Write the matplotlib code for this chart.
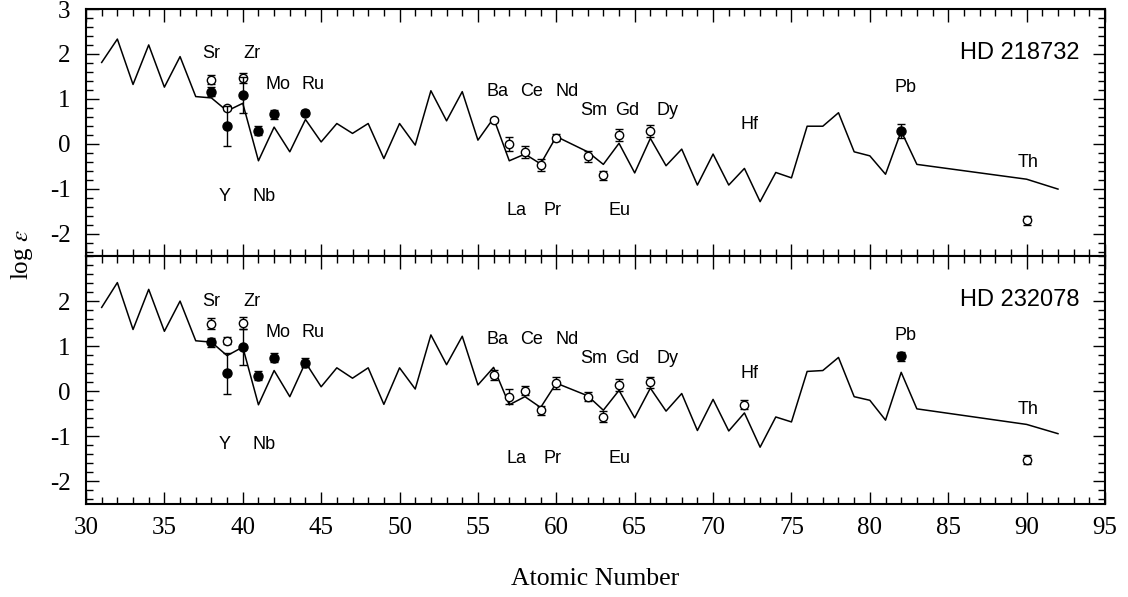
import numpy as np
import matplotlib
matplotlib.use("Agg")
import matplotlib.pyplot as plt
from matplotlib.ticker import MultipleLocator

plt.rcParams['axes.unicode_minus'] = False
plt.rcParams['mathtext.fontset'] = 'stix'

# scaled solar r-process pattern (line), one list per star
z_line = [31, 32, 33, 34, 35, 36, 37, 38, 39, 40, 41, 42, 43, 44, 45, 46, 47, 48,
          49, 50, 51, 52, 53, 54, 55, 56, 57, 58, 59, 60, 62, 63, 64, 65, 66, 67,
          68, 69, 70, 71, 72, 73, 74, 75, 76, 77, 78, 79, 80, 81, 82, 83, 90, 92]
line_218732 = [1.81, 2.33, 1.32, 2.20, 1.26, 1.94, 1.05, 1.02, 0.73, 0.90, -0.38, 0.37,
               -0.18, 0.54, 0.04, 0.45, 0.23, 0.45, -0.33, 0.45, -0.03, 1.18, 0.51, 1.16,
               0.08, 0.57, -0.38, -0.23, -0.45, 0.16, -0.18, -0.46, 0.01, -0.65, 0.12,
               -0.49, -0.12, -0.92, -0.23, -0.92, -0.55, -1.29, -0.64, -0.76, 0.39, 0.39,
               0.69, -0.18, -0.27, -0.68, 0.28, -0.46, -0.79, -1.01]
line_232078 = [1.86, 2.41, 1.37, 2.26, 1.33, 2.00, 1.12, 1.09, 0.79, 0.98, -0.30, 0.46,
               -0.12, 0.64, 0.10, 0.52, 0.29, 0.52, -0.29, 0.52, 0.05, 1.25, 0.59, 1.22,
               0.14, 0.53, -0.30, -0.12, -0.36, 0.18, -0.10, -0.42, 0.02, -0.59, 0.07,
               -0.44, -0.05, -0.87, -0.18, -0.88, -0.48, -1.24, -0.57, -0.68, 0.44, 0.46,
               0.75, -0.12, -0.20, -0.64, 0.42, -0.39, -0.735, -0.94]

# HD 218732 abundances
z_fill_1 = [38, 39, 40, 41, 42, 44, 82]
v_fill_1 = [1.16, 0.40, 1.09, 0.29, 0.66, 0.69, 0.28]
e_fill_1 = [0.10, 0.45, 0.40, 0.10, 0.10, 0.05, 0.15]
z_open_1 = [38, 39, 40, 56, 57, 58, 59, 60, 62, 63, 64, 66, 90]
v_open_1 = [1.43, 0.79, 1.46, 0.53, -0.01, -0.19, -0.47, 0.13, -0.28, -0.70, 0.20, 0.28, -1.70]
e_open_1 = [0.10, 0.05, 0.11, 0.05, 0.16, 0.13, 0.13, 0.08, 0.12, 0.10, 0.13, 0.13, 0.10]

# HD 232078 abundances
z_fill_2 = [38, 39, 40, 41, 42, 44, 82]
v_fill_2 = [1.09, 0.40, 0.98, 0.34, 0.74, 0.63, 0.78]
e_fill_2 = [0.10, 0.45, 0.40, 0.10, 0.10, 0.10, 0.10]
z_open_2 = [38, 39, 40, 56, 57, 58, 59, 60, 62, 63, 64, 66, 72, 90]
v_open_2 = [1.50, 1.12, 1.51, 0.36, -0.12, 0.01, -0.42, 0.18, -0.12, -0.56, 0.14, 0.20, -0.30, -1.52]
e_open_2 = [0.12, 0.08, 0.13, 0.12, 0.17, 0.10, 0.10, 0.13, 0.10, 0.12, 0.13, 0.12, 0.10, 0.10]

elements = ['Sr', 'Zr', 'Mo', 'Ru', 'Y', 'Nb', 'Ba', 'Ce', 'Nd', 'Sm', 'Gd', 'Dy',
            'La', 'Pr', 'Eu', 'Hf', 'Pb', 'Th']
label_x = [38.0, 40.57, 42.27, 44.5, 38.87, 41.37, 56.26, 58.42, 60.66, 62.4, 64.52, 67.1,
           57.47, 59.74, 64.06, 72.3, 82.3, 90.1]
label_y_1 = [2.02, 2.02, 1.31, 1.31, -1.17, -1.17, 1.16, 1.16, 1.16, 0.73, 0.73, 0.73,
             -1.48, -1.48, -1.48, 0.42, 1.26, -0.41]
label_y_2 = [1.98, 1.98, 1.31, 1.31, -1.17, -1.17, 1.15, 1.15, 1.15, 0.72, 0.72, 0.72,
             -1.49, -1.49, -1.49, 0.39, 1.24, -0.415]

stars = ['HD 218732', 'HD 232078']

fig = plt.figure(figsize=(11.28, 5.97), dpi=100)
W, H = 1128, 597
ax1 = fig.add_axes([86 / W, (H - 256) / H, 1019 / W, 247 / H])
ax2 = fig.add_axes([86 / W, (H - 504) / H, 1019 / W, 248 / H])

panels = [
    (ax1, line_218732, z_fill_1, v_fill_1, e_fill_1, z_open_1, v_open_1, e_open_1, label_y_1, stars[0]),
    (ax2, line_232078, z_fill_2, v_fill_2, e_fill_2, z_open_2, v_open_2, e_open_2, label_y_2, stars[1]),
]

TICKFONT = 18

for ax, line, zf, vf, ef, zo, vo, eo, ly, star in panels:
    ax.plot(z_line, line, color='black', lw=1.1, zorder=2)
    ax.errorbar(zo, vo, yerr=eo, fmt='o', mfc='white', mec='black', ecolor='black',
                ms=6, mew=1.0, elinewidth=1.0, capsize=3, capthick=1.0, zorder=3)
    ax.errorbar(zf, vf, yerr=ef, fmt='o', mfc='black', mec='black', ecolor='black',
                ms=6.5, mew=1.0, elinewidth=1.0, capsize=3, capthick=1.0, zorder=4)
    for name, x, y in zip(elements, label_x, ly):
        ax.text(x, y, name, ha='center', va='center', fontsize=13,
                family='Liberation Sans')
    ax.text(93.4, 2.02, star, ha='right', va='center', fontsize=17,
            family='Liberation Sans')

    ax.set_xlim(30, 95)
    ax.set_ylim(-2.5, 3)
    ax.xaxis.set_major_locator(MultipleLocator(5))
    ax.xaxis.set_minor_locator(MultipleLocator(1))
    ax.yaxis.set_major_locator(MultipleLocator(1))
    ax.yaxis.set_minor_locator(MultipleLocator(0.2))
    ax.tick_params(which='both', direction='in', top=True, right=True, width=1.0)
    ax.tick_params(which='major', length=9)
    ax.tick_params(which='minor', length=5)
    ax.tick_params(axis='x', pad=9)
    ax.tick_params(axis='y', pad=11)
    for s in ax.spines.values():
        s.set_linewidth(1.5)
    for lab in ax.get_xticklabels() + ax.get_yticklabels():
        lab.set_family('Liberation Serif')
        lab.set_fontsize(TICKFONT)

ax1.set_xticklabels([])
ax2.set_yticks([-2, -1, 0, 1, 2])
for lab in ax2.get_yticklabels():
    lab.set_family('Liberation Serif')
    lab.set_fontsize(TICKFONT)
ax2.set_yticks(np.arange(-2.4, 3.01, 0.2), minor=True)

ax2.set_xlabel('Atomic Number', family='Liberation Serif', fontsize=18.5, labelpad=21)
fig.text(22 / W, 1 - 255 / H, r'log $\epsilon$', rotation=90, ha='center', va='center',
         family='Liberation Serif', fontsize=18)

fig.savefig('out.png', dpi=100)
